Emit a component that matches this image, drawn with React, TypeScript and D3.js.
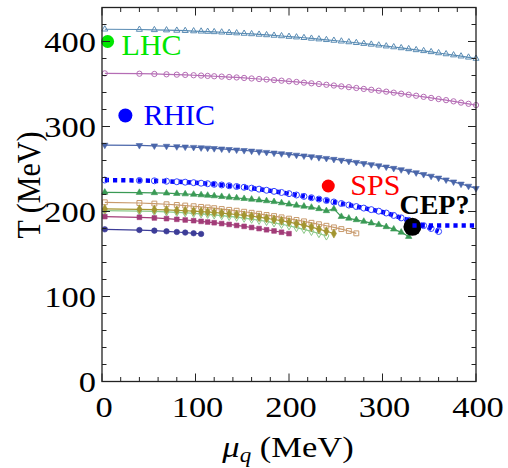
import React from 'react';
import * as d3 from 'd3';

const WIDTH = 508;
const HEIGHT = 468;

// mu_q grid shared by the lattice-style curves (MeV)
const MU_GRID = [3, 40, 56, 69, 80, 89, 98, 106, 113, 120, 128, 136, 144, 152, 160, 168, 176, 184, 192, 200,
  208, 216, 224, 232, 240, 248, 256, 264, 272, 280, 288, 296, 304, 312, 320, 328, 336, 344, 352, 360,
  368, 376, 384, 392, 400];

// T (MeV), one array per curve, top to bottom
const T_TRI_OPEN = [414.4, 414.1, 413.7, 413.4, 413.0, 412.7, 412.3, 412.0, 411.7, 411.3, 410.9, 410.4, 409.9, 409.4,
  408.9, 408.3, 407.7, 407.1, 406.5, 405.8, 405.1, 404.4, 403.6, 402.8, 402.0, 401.2, 400.3, 399.4, 398.5, 397.5,
  396.6, 395.6, 394.5, 393.5, 392.4, 391.3, 390.1, 389.0, 387.8, 386.5, 385.3, 384.0, 382.7, 381.4, 380.0];
const T_CIRC_OPEN = [362.5, 362.1, 361.8, 361.4, 361.0, 360.7, 360.3, 359.9, 359.5, 359.1, 358.7, 358.2, 357.7, 357.1,
  356.5, 355.9, 355.3, 354.6, 353.9, 353.2, 352.4, 351.6, 350.8, 350.0, 349.1, 348.2, 347.2, 346.3, 345.3, 344.2,
  343.2, 342.1, 341.0, 339.8, 338.6, 337.4, 336.2, 334.9, 333.6, 332.3, 331.0, 329.6, 328.1, 326.7, 325.2];
const T_TRI_DOWN = [278.2, 277.8, 277.3, 276.9, 276.4, 276.0, 275.6, 275.1, 274.7, 274.2, 273.7, 273.1, 272.5, 271.9,
  271.2, 270.4, 269.7, 268.9, 268.1, 267.2, 266.4, 265.5, 264.6, 263.6, 262.6, 261.5, 260.4, 259.2, 257.9, 256.6,
  255.3, 253.9, 252.5, 250.9, 249.3, 247.5, 245.7, 243.7, 241.7, 239.5, 237.3, 234.9, 232.4, 229.9, 227.2];
const T_CROSSOVER = [237.0, 236.5, 236.1, 235.6, 235.0, 234.5, 233.9, 233.3, 232.7, 232.0, 231.2, 230.3, 229.4, 228.5,
  227.5, 226.3, 225.0, 223.7, 222.4, 221.0, 219.4, 217.8, 216.2, 214.6, 213.0, 211.2, 209.4, 207.6, 205.8, 204.0,
  202.2, 200.4, 198.2, 195.4, 192.5, 189.6, 186.6, 183.4, 180.0, 176.5];
const T_TRI_UP = [222.6, 222.3, 222.0, 221.6, 221.1, 220.6, 220.1, 219.5, 218.9, 218.3, 217.5, 216.7, 215.9, 215.1,
  214.3, 213.4, 212.5, 211.5, 210.1, 208.6, 207.3, 206.1, 204.8, 203.2, 200.8, 203.0, 194.0, 192.0, 190.2, 188.3,
  186.4, 184.5, 182.0, 179.2, 175.5, 170.5];
const T_SQ_OPEN = [210.8, 210.0, 209.3, 208.5, 207.7, 207.0, 206.2, 205.4, 204.7, 203.9, 202.9, 201.9, 200.9, 199.7,
  198.5, 197.3, 195.9, 194.6, 193.1, 191.6, 190.0, 188.4, 186.7, 185.0, 183.2, 181.3, 179.3, 177.1, 174.3];
const T_DIA_FILLED = [203.0, 202.6, 202.2, 201.8, 201.3, 200.9, 200.4, 199.9, 199.4, 198.8, 198.1, 197.3, 196.5, 195.5,
  194.4, 193.3, 192.0, 190.6, 189.1, 187.5, 185.7, 183.7, 181.6, 179.3, 176.8, 174.1];
const T_DIA_OPEN = [201.0, 200.5, 200.1, 199.5, 199.0, 198.5, 197.9, 197.3, 196.7, 196.0, 195.2, 194.3, 193.3, 192.2,
  191.0, 189.7, 188.3, 186.7, 185.0, 183.2, 181.1, 179.0, 176.6, 174.1, 171.3];
const T_SQ_FILLED = [194.0, 193.2, 192.4, 191.6, 190.8, 190.0, 189.2, 188.4, 187.6, 186.8, 185.8, 184.8, 183.6, 182.5,
  181.2, 179.9, 178.5, 177.1, 175.6, 174.0];
const T_CIRC_FILLED = [179.0, 178.2, 177.5, 176.7, 175.9, 175.2, 174.4, 173.6];

// horizontal dotted line to the right of the CEP
const CEP_LINE_MU = [332, 400];
const CEP_LINE_T = [183.5, 183.5];

// experiment points
const EXP_NAMES = ['LHC', 'RHIC', 'SPS', 'CEP?'];
const EXP_MU = [6, 25, 242, 332];
const EXP_T = [400, 313, 230, 182];

const X_TICKS = [0, 100, 200, 300, 400];
const Y_TICKS = [0, 100, 200, 300, 400];

const SERIES = [
  { t: T_TRI_OPEN, color: '#5a8cb4', shape: d3.symbolTriangle, size: 16, filled: false, rot: 0 },
  { t: T_CIRC_OPEN, color: '#b56db5', shape: d3.symbolCircle, size: 22, filled: false, rot: 0 },
  { t: T_TRI_DOWN, color: '#4a66aa', shape: d3.symbolTriangle, size: 18, filled: true, rot: 180 },
  { t: T_TRI_UP, color: '#3a9a55', shape: d3.symbolTriangle, size: 18, filled: true, rot: 0 },
  { t: T_SQ_OPEN, color: '#c89a6c', shape: d3.symbolSquare, size: 24, filled: false, rot: 0 },
  { t: T_DIA_OPEN, color: '#8dc98a', shape: d3.symbolDiamond, size: 20, filled: false, rot: 0 },
  { t: T_DIA_FILLED, color: '#a39530', shape: d3.symbolDiamond, size: 24, filled: true, rot: 0 },
  { t: T_SQ_FILLED, color: '#a23c78', shape: d3.symbolSquare, size: 22, filled: true, rot: 0 },
  { t: T_CIRC_FILLED, color: '#3d3d98', shape: d3.symbolCircle, size: 24, filled: true, rot: 0 },
];

const EXP_STYLE = [
  { color: '#00e600', r: 6.5, dx: 14, dy: 13, size: 30, bold: false },
  { color: '#0000ff', r: 7, dx: 18, dy: 10, size: 30, bold: false },
  { color: '#ff0000', r: 6.5, dx: 22, dy: 9, size: 30, bold: false },
  { color: '#000000', r: 9, dx: -13, dy: -13, size: 28, bold: true },
];

const SERIF = '"Liberation Serif", "Times New Roman", serif';

export default function App() {
  const x = d3.scaleLinear().domain([0, 400]).range([102, 476]);
  const y = d3.scaleLinear().domain([0, 440]).range([381.5, 7.5]);
  const line = d3.line<[number, number]>().x(d => x(d[0])).y(d => y(d[1]));
  const pts = (t: number[]) => t.map((v, i) => [MU_GRID[i], v] as [number, number]);

  const [x0, x1] = x.range();
  const [y0, y1] = y.range();
  const minorX = x.ticks(20);
  const minorY = y.ticks(22);
  const stretch = 'scale(1.15,1)';

  const blue = pts(T_CROSSOVER);
  const cepLine = CEP_LINE_MU.map((m, i) => [m, CEP_LINE_T[i]] as [number, number]);

  return (
    <svg width={WIDTH} height={HEIGHT} style={{ position: 'absolute', left: 0, top: 0, background: '#fff' }}>
      {SERIES.map((s, k) => {
        const p = pts(s.t);
        const sym = d3.symbol(s.shape, s.size)()!;
        return (
          <g key={k}>
            <path d={line(p)!} fill="none" stroke={s.color} strokeWidth={1.2} />
            {p.map((d, i) => (
              <path key={i} d={sym}
                transform={`translate(${x(d[0])},${y(d[1])}) rotate(${s.rot})`}
                fill={s.filled ? s.color : 'none'} stroke={s.color} strokeWidth={s.filled ? 0.6 : 1} />
            ))}
          </g>
        );
      })}

      {/* crossover line: thick dotted with open circles */}
      <path d={line(blue)!} fill="none" stroke="#0000ff" strokeWidth={4.5} strokeDasharray="4.2 4" />
      {blue.map((d, i) => (
        <circle key={i} cx={x(d[0])} cy={y(d[1])} r={3} fill="none" stroke="#3344ff" strokeWidth={1} />
      ))}

      {EXP_NAMES.map((name, i) => {
        const st = EXP_STYLE[i];
        const cx = x(EXP_MU[i]);
        const cy = y(EXP_T[i]);
        return (
          <g key={name}>
            <circle cx={cx} cy={cy} r={st.r} fill={st.color} />
            <text x={cx + st.dx} y={cy + st.dy} fill={st.color} fontSize={st.size}
              fontWeight={st.bold ? 'bold' : 'normal'} fontFamily={SERIF}>{name}</text>
          </g>
        );
      })}
      <path d={line(cepLine)!} fill="none" stroke="#0000ff" strokeWidth={4.5} strokeDasharray="4.2 4" />

      {/* frame */}
      <rect x={x0} y={y1} width={x1 - x0} height={y0 - y1} fill="none" stroke="#222" strokeWidth={1.3} />
      {minorX.map(v => {
        const len = v % 100 === 0 ? 8 : 4.5;
        return (
          <g key={'x' + v} stroke="#222" strokeWidth={1}>
            <line x1={x(v)} x2={x(v)} y1={y0} y2={y0 - len} />
            <line x1={x(v)} x2={x(v)} y1={y1} y2={y1 + len} />
          </g>
        );
      })}
      {minorY.map(v => {
        const len = v % 100 === 0 ? 8 : 4.5;
        return (
          <g key={'y' + v} stroke="#222" strokeWidth={1}>
            <line x1={x0} x2={x0 + len} y1={y(v)} y2={y(v)} />
            <line x1={x1} x2={x1 - len} y1={y(v)} y2={y(v)} />
          </g>
        );
      })}

      {X_TICKS.map(v => (
        <text key={'xl' + v} transform={`translate(${x(v) + 2},${y0 + 35}) ${stretch}`} textAnchor="middle"
          fontSize={30} fontFamily={SERIF} fill="#000">{v}</text>
      ))}
      {Y_TICKS.map(v => (
        <text key={'yl' + v} transform={`translate(${x0 - 6},${y(v) + 10}) ${stretch}`} textAnchor="end"
          fontSize={30} fontFamily={SERIF} fill="#000">{v}</text>
      ))}

      <text transform={`translate(288,457) ${stretch}`} textAnchor="middle" fontSize={30} fontFamily={SERIF}>
        <tspan fontStyle="italic">μ</tspan>
        <tspan fontStyle="italic" fontSize={20} dy={5}>q</tspan>
        <tspan dy={-5}> (MeV)</tspan>
      </text>
      <text transform={`translate(40,185) ${stretch} rotate(-90)`} textAnchor="middle" fontSize={30} fontFamily={SERIF}>
        T (MeV)
      </text>
    </svg>
  );
}
